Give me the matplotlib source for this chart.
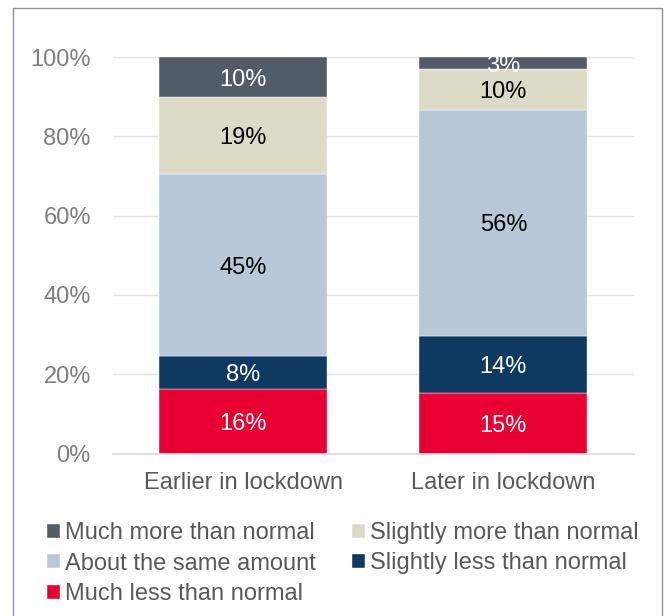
import numpy as np
import matplotlib.pyplot as plt
from matplotlib.patches import Rectangle

plt.rcParams['font.family'] = ['Liberation Sans', 'DejaVu Sans']

# データ
categories = ["Earlier in lockdown", "Later in lockdown"]
series_names = ["Much less than normal", "Slightly less than normal",
                "About the same amount", "Slightly more than normal",
                "Much more than normal"]
much_less = [16, 15]
slightly_less = [8, 14]
same_amount = [45, 56]
slightly_more = [19, 10]
much_more = [10, 3]
y_ticks = [0, 0.2, 0.4, 0.6, 0.8, 1.0]
y_tick_labels = ["0%", "20%", "40%", "60%", "80%", "100%"]

colors = ["#E80033", "#0E3A62", "#B8C8D8", "#DDDBC8", "#525C69"]
label_colors = ["white", "white", "black", "black", "white"]

series = [much_less, slightly_less, same_amount, slightly_more, much_more]
raw = np.array(series, dtype=float)
totals = raw.sum(axis=0)
shares = raw / totals  # 100% stacked

fs = 17

fig = plt.figure(figsize=(6.7, 6.16), dpi=100)
ax = fig.add_axes([113 / 670, 1 - 453.5 / 616, (633.5 - 113) / 670, (453.5 - 57) / 616])

x = np.arange(len(categories))
bottom = np.zeros(len(categories))
bars = []
for i, name in enumerate(series_names):
    b = ax.bar(x, shares[i], 0.646, bottom=bottom, color=colors[i], label=name,
               edgecolor="white", linewidth=0.3, zorder=2)
    bars.append(b)
    for j in range(len(categories)):
        ax.text(x[j], bottom[j] + shares[i][j] / 2, f"{int(raw[i][j])}%",
                ha="center", va="center_baseline", fontsize=fs,
                color=label_colors[i], zorder=3)
    bottom += shares[i]

ax.set_xlim(-0.5, 1.5)
ax.set_ylim(0, 1)
ax.set_yticks(y_ticks)
ax.set_yticklabels(y_tick_labels)
ax.set_xticks(x)
ax.set_xticklabels(categories)
ax.tick_params(axis="both", length=0, labelsize=fs, colors="#595959")
ax.tick_params(axis="y", pad=16, colors="#7F7F7F")
ax.tick_params(axis="x", pad=13)
ax.grid(axis="y", color="#E3E3E3", linewidth=1, zorder=0)
for s in ["top", "right", "left"]:
    ax.spines[s].set_visible(False)
ax.spines["bottom"].set_color("#D9D9D9")
ax.spines["bottom"].set_linewidth(1.2)

# 凡例（行優先の並び）
handles = [bars[4], bars[3], bars[2], bars[1], bars[0]]
labels = [series_names[4], series_names[3], series_names[2], series_names[1], series_names[0]]
# ncol=2 は列優先なので並べ替え
order = [0, 2, 4, 1, 3]
leg = fig.legend([handles[k] for k in order], [labels[k] for k in order],
                 ncol=2, loc="upper left", bbox_to_anchor=(47 / 670, 1 - 522 / 616),
                 frameon=False, fontsize=fs, handlelength=0.55, handleheight=0.55,
                 handletextpad=0.2, columnspacing=1.55, labelspacing=0.36,
                 borderaxespad=0, borderpad=0)
for t in leg.get_texts():
    t.set_color("#595959")

# 外枠
fig.patches.append(Rectangle((13 / 670, -0.01), (662 - 13) / 670, 1.01 - 8 / 616,
                             transform=fig.transFigure, fill=False,
                             edgecolor="#8A939E", linewidth=1))

fig.savefig("out.png", dpi=100)
